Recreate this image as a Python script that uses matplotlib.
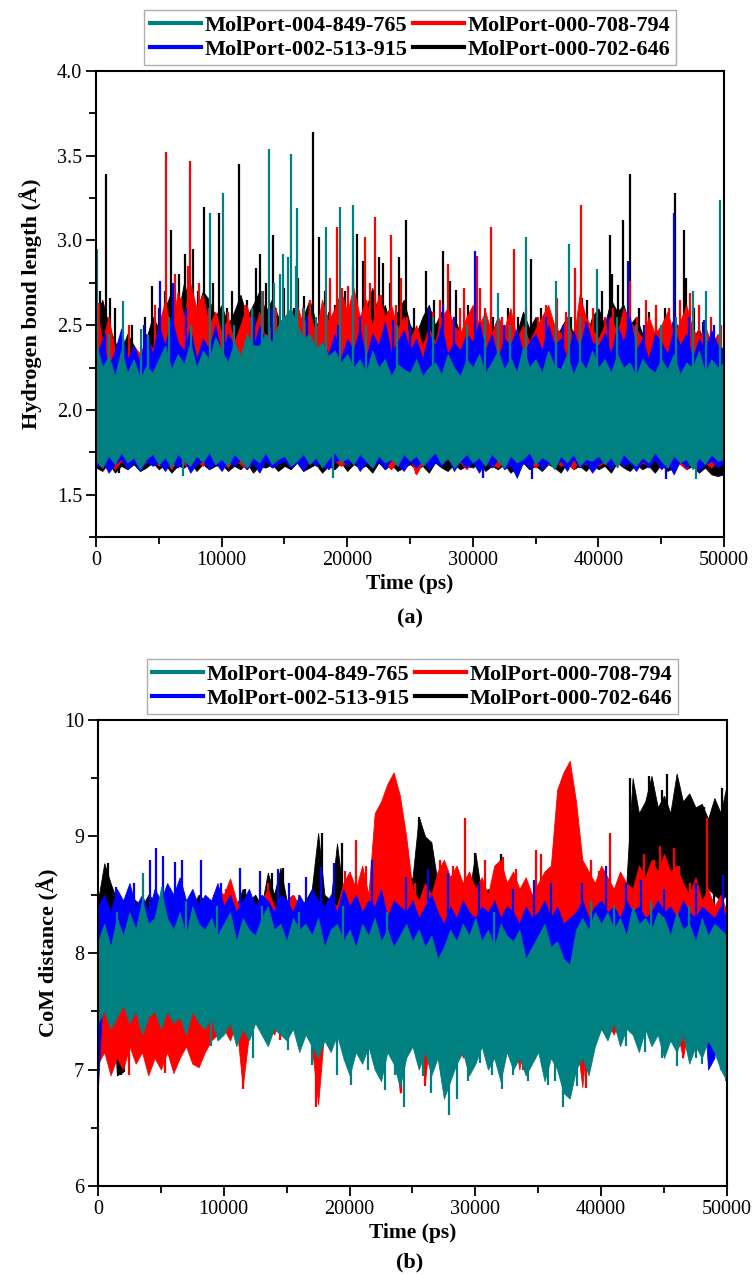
import numpy as np
import matplotlib.pyplot as plt
from matplotlib.lines import Line2D
from matplotlib.ticker import MultipleLocator

plt.rcParams['font.family'] = ['Liberation Serif', 'DejaVu Serif']

names = ['MolPort-004-849-765', 'MolPort-000-708-794',
         'MolPort-002-513-915', 'MolPort-000-702-646']
colors = {'teal': '#008080', 'red': '#ff0000', 'blue': '#0000ff', 'black': '#000000'}

# readings every 500 ps: upper and lower edge of each trace
t_grid = np.arange(0, 50001, 500)

# ---------------- panel (a): hydrogen bond length ----------------
teal_hi_a = [2.40, 2.25, 2.32, 2.20, 2.35, 2.22, 2.30, 2.18, 2.26, 2.22,
             2.30, 2.38, 2.24, 2.33, 2.27, 2.40, 2.25, 2.35, 2.30, 2.43,
             2.35, 2.28, 2.40, 2.32, 2.45, 2.38, 2.38, 2.45, 2.40, 2.50,
             2.55, 2.60, 2.50, 2.42, 2.45, 2.36, 2.40, 2.32, 2.35, 2.28,
             2.33, 2.25, 2.30, 2.22, 2.35, 2.25, 2.30, 2.20, 2.27, 2.24,
             2.22, 2.30, 2.20, 2.25, 2.28, 2.21, 2.33, 2.25, 2.20, 2.30,
             2.25, 2.33, 2.22, 2.28, 2.35, 2.24, 2.31, 2.22, 2.37, 2.25,
             2.30, 2.22, 2.35, 2.26, 2.24, 2.33, 2.21, 2.30, 2.24, 2.35,
             2.25, 2.30, 2.22, 2.33, 2.25, 2.28, 2.20, 2.30, 2.25, 2.22,
             2.30, 2.24, 2.33, 2.21, 2.28, 2.25, 2.35, 2.22, 2.30, 2.25,
             2.28]
teal_lo_a = [1.70, 1.66, 1.73, 1.68, 1.75, 1.69, 1.72, 1.65, 1.71, 1.74,
             1.68, 1.72, 1.66, 1.74, 1.70, 1.67, 1.73, 1.69, 1.75, 1.68,
             1.71, 1.67, 1.74, 1.70, 1.66, 1.72, 1.69, 1.75, 1.68, 1.71,
             1.73, 1.67, 1.70, 1.74, 1.68, 1.72, 1.66, 1.71, 1.75, 1.69,
             1.72, 1.68, 1.74, 1.70, 1.66, 1.73, 1.69, 1.71, 1.67, 1.74,
             1.70, 1.73, 1.67, 1.71, 1.75, 1.68, 1.72, 1.66, 1.70, 1.74,
             1.69, 1.72, 1.67, 1.74, 1.70, 1.66, 1.73, 1.69, 1.71, 1.75,
             1.68, 1.72, 1.70, 1.65, 1.73, 1.69, 1.74, 1.67, 1.71, 1.70,
             1.73, 1.68, 1.72, 1.66, 1.74, 1.70, 1.67, 1.72, 1.69, 1.75,
             1.70, 1.66, 1.73, 1.69, 1.71, 1.65, 1.72, 1.68, 1.74, 1.70,
             1.71]
blue_hi_a = [2.30, 2.42, 2.25, 2.35, 2.48, 2.30, 2.38, 2.28, 2.45, 2.33,
             2.50, 2.38, 2.55, 2.40, 2.35, 2.48, 2.30, 2.42, 2.36, 2.50,
             2.32, 2.45, 2.38, 2.30, 2.42, 2.35, 2.50, 2.40, 2.33, 2.45,
             2.38, 2.30, 2.48, 2.35, 2.42, 2.28, 2.40, 2.33, 2.45, 2.30,
             2.42, 2.35, 2.48, 2.30, 2.45, 2.38, 2.52, 2.33, 2.40, 2.47,
             2.35, 2.42, 2.30, 2.45, 2.38, 2.50, 2.33, 2.40, 2.35, 2.45,
             2.40, 2.52, 2.35, 2.45, 2.30, 2.42, 2.38, 2.48, 2.33, 2.40,
             2.45, 2.35, 2.50, 2.38, 2.42, 2.30, 2.47, 2.36, 2.52, 2.40,
             2.38, 2.45, 2.33, 2.50, 2.40, 2.55, 2.35, 2.42, 2.30, 2.45,
             2.40, 2.33, 2.48, 2.38, 2.45, 2.30, 2.42, 2.35, 2.47, 2.38,
             2.35]
blue_lo_a = [1.66, 1.70, 1.63, 1.68, 1.71, 1.65, 1.69, 1.64, 1.70, 1.67,
             1.69, 1.64, 1.70, 1.66, 1.71, 1.63, 1.68, 1.70, 1.65, 1.69,
             1.64, 1.70, 1.67, 1.71, 1.65, 1.69, 1.63, 1.70, 1.66, 1.68,
             1.70, 1.66, 1.69, 1.64, 1.71, 1.67, 1.70, 1.65, 1.69, 1.72,
             1.67, 1.71, 1.64, 1.69, 1.66, 1.70, 1.65, 1.71, 1.68, 1.64,
             1.70, 1.66, 1.71, 1.65, 1.69, 1.67, 1.72, 1.64, 1.70, 1.66,
             1.69, 1.63, 1.70, 1.66, 1.71, 1.65, 1.68, 1.60, 1.69, 1.66,
             1.71, 1.65, 1.69, 1.67, 1.70, 1.64, 1.71, 1.66, 1.69, 1.63,
             1.68, 1.70, 1.65, 1.71, 1.67, 1.69, 1.64, 1.70, 1.66, 1.71,
             1.65, 1.69, 1.62, 1.70, 1.66, 1.71, 1.64, 1.68, 1.70, 1.66,
             1.69]
red_hi_a = [2.62, 2.40, 2.55, 2.35, 2.45, 2.30, 2.38, 2.33, 2.42, 2.36,
            2.50, 2.65, 2.45, 2.70, 2.55, 2.75, 2.60, 2.68, 2.50, 2.58,
            2.45, 2.55, 2.40, 2.50, 2.62, 2.45, 2.58, 2.40, 2.52, 2.48,
            2.55, 2.45, 2.62, 2.50, 2.58, 2.45, 2.65, 2.52, 2.60, 2.70,
            2.58, 2.72, 2.55, 2.65, 2.50, 2.68, 2.55, 2.62, 2.48, 2.55,
            2.42, 2.50, 2.38, 2.48, 2.40, 2.55, 2.60, 2.50, 2.45, 2.55,
            2.62, 2.50, 2.58, 2.45, 2.55, 2.48, 2.60, 2.42, 2.50, 2.40,
            2.48, 2.55, 2.62, 2.50, 2.45, 2.55, 2.40, 2.68, 2.55, 2.48,
            2.42, 2.50, 2.55, 2.45, 2.60, 2.52, 2.48, 2.42, 2.55, 2.45,
            2.50, 2.58, 2.45, 2.52, 2.62, 2.48, 2.42, 2.50, 2.38, 2.45,
            2.30]
red_lo_a = [1.69, 1.66, 1.71, 1.65, 1.70, 1.67, 1.72, 1.66, 1.69, 1.71,
            1.67, 1.70, 1.65, 1.71, 1.68, 1.66, 1.70, 1.67, 1.72, 1.68,
            1.70, 1.66, 1.71, 1.68, 1.65, 1.70, 1.67, 1.71, 1.66, 1.69,
            1.71, 1.67, 1.69, 1.65, 1.70, 1.68, 1.72, 1.66, 1.70, 1.67,
            1.69, 1.71, 1.66, 1.70, 1.67, 1.72, 1.68, 1.65, 1.70, 1.67,
            1.71, 1.62, 1.69, 1.66, 1.70, 1.68, 1.71, 1.67, 1.69, 1.65,
            1.70, 1.67, 1.71, 1.68, 1.66, 1.70, 1.67, 1.72, 1.68, 1.70,
            1.66, 1.70, 1.68, 1.71, 1.67, 1.69, 1.65, 1.70, 1.68, 1.71,
            1.67, 1.69, 1.66, 1.71, 1.68, 1.70, 1.65, 1.69, 1.67, 1.71,
            1.69, 1.66, 1.70, 1.68, 1.65, 1.71, 1.67, 1.69, 1.66, 1.70,
            1.68]
black_hi_a = [2.55, 2.65, 2.50, 2.40, 2.35, 2.45, 2.38, 2.30, 2.42, 2.55,
              2.48, 2.60, 2.70, 2.55, 2.75, 2.62, 2.58, 2.70, 2.65, 2.55,
              2.62, 2.50, 2.58, 2.68, 2.55, 2.62, 2.70, 2.58, 2.65, 2.55,
              2.50, 2.60, 2.48, 2.55, 2.65, 2.52, 2.45, 2.58, 2.50, 2.62,
              2.55, 2.65, 2.50, 2.60, 2.72, 2.55, 2.62, 2.48, 2.58, 2.65,
              2.50, 2.45, 2.55, 2.62, 2.50, 2.58, 2.48, 2.55, 2.45, 2.52,
              2.48, 2.40, 2.52, 2.45, 2.55, 2.42, 2.50, 2.45, 2.58, 2.48,
              2.55, 2.45, 2.52, 2.42, 2.48, 2.55, 2.45, 2.50, 2.42, 2.55,
              2.60, 2.50, 2.65, 2.58, 2.62, 2.50, 2.55, 2.45, 2.52, 2.42,
              2.48, 2.40, 2.55, 2.45, 2.50, 2.42, 2.48, 2.38, 2.45, 2.40,
              2.35]
black_lo_a = [1.66, 1.64, 1.69, 1.63, 1.67, 1.65, 1.68, 1.64, 1.66, 1.69,
              1.65, 1.68, 1.63, 1.67, 1.66, 1.69, 1.64, 1.68, 1.65, 1.67,
              1.68, 1.64, 1.67, 1.65, 1.69, 1.63, 1.67, 1.66, 1.68, 1.64,
              1.67, 1.65, 1.69, 1.64, 1.66, 1.68, 1.63, 1.67, 1.65, 1.69,
              1.64, 1.68, 1.66, 1.67, 1.63, 1.69, 1.65, 1.68, 1.64, 1.66,
              1.68, 1.65, 1.67, 1.63, 1.69, 1.66, 1.64, 1.68, 1.65, 1.67,
              1.66, 1.69, 1.64, 1.67, 1.65, 1.68, 1.63, 1.66, 1.69, 1.65,
              1.67, 1.64, 1.68, 1.66, 1.63, 1.69, 1.65, 1.67, 1.64, 1.68,
              1.65, 1.67, 1.63, 1.69, 1.66, 1.64, 1.68, 1.65, 1.67, 1.63,
              1.68, 1.64, 1.66, 1.69, 1.65, 1.67, 1.63, 1.66, 1.62, 1.61,
              1.62]

# isolated spikes (time, value)
teal_spk_t_a = [50, 1000, 2170, 3560, 4100, 5800, 6900, 7600, 9100, 10100, 11000, 12400,
                13200, 13800, 14200, 14670, 14900, 15300, 15500, 15900, 16000, 16600,
                17500, 18300, 18900, 19450, 20450, 21500, 24000, 26800, 29500, 31000,
                32000, 33000, 34230, 36600, 37660, 38500, 39920, 41500, 43000, 45000,
                46200, 47500, 47800, 48560, 49650]
teal_spk_v_a = [2.95, 2.45, 2.64, 2.48, 2.44, 2.55, 1.61, 2.5, 3.16, 3.28, 2.5, 2.6,
                2.7, 3.54, 2.75, 2.80, 2.92, 2.9, 3.51, 2.85, 3.19, 2.6,
                2.55, 3.08, 1.60, 3.20, 3.21, 2.5, 2.5, 2.55, 2.5, 2.55,
                2.69, 2.5, 3.02, 2.76, 2.98, 2.55, 2.83, 2.55, 2.5, 2.5,
                2.55, 2.70, 1.59, 2.70, 3.24]
red_spk_t_a = [200, 1000, 2600, 4700, 5580, 6300, 6800, 7300, 7500, 8200, 9000, 10500,
               11900, 12300, 13300, 14300, 15200, 16500, 17000, 17800, 18650, 19150,
               19550, 20100, 20500, 21400, 21800, 22250, 22700, 23450, 23900, 24300,
               24800, 25500, 26800, 27400, 28000, 29000, 29300, 30360, 30550, 31000,
               31470, 32300, 33260, 34200, 35200, 35800, 36700, 37400, 38150, 38600,
               39600, 40500, 41200, 42500, 43100, 43800, 44600, 45600, 46500, 47300,
               48000, 49000, 49800]
red_spk_v_a = [2.63, 2.55, 2.5, 2.62, 3.52, 2.8, 2.66, 2.85, 3.47, 2.75, 2.6, 2.58,
               2.62, 2.55, 2.7, 2.6, 2.55, 2.6, 2.65, 2.55, 2.78, 3.08,
               2.72, 2.73, 2.85, 3.02, 2.75, 3.14, 2.68, 3.03, 2.62, 2.78,
               2.55, 1.62, 2.58, 2.65, 2.86, 2.6, 2.72, 2.91, 2.72, 2.6,
               3.08, 2.55, 2.95, 2.6, 2.55, 2.62, 2.66, 2.58, 2.84, 3.21,
               2.6, 2.55, 2.6, 2.76, 2.55, 2.65, 2.62, 2.6, 2.65, 2.69,
               2.62, 2.55, 2.5]
black_spk_t_a = [300, 770, 1100, 1500, 1800, 2900, 3900, 4440, 5000, 5500, 6000, 6600,
                 7100, 7700, 8100, 8600, 9300, 9800, 10400, 10800, 11400, 12000, 12700,
                 13080, 13500, 14100, 15000, 15800, 16100, 16600, 17300, 17750, 18200,
                 19000, 19800, 20750, 21260, 22500, 22850, 23400, 24100, 24700, 25300,
                 26300, 26900, 27620, 28200, 28700, 29600, 30200, 31600, 32800, 33600,
                 34660, 35400, 37800, 38700, 39100, 40300, 40900, 41100, 41600, 42000,
                 42480, 43200, 44040, 44600, 45300, 46090, 46780, 47000, 47600, 48300,
                 49500]
black_spk_v_a = [2.7, 3.39, 2.66, 2.6, 1.63, 2.5, 2.55, 2.73, 2.6, 2.7, 3.06, 2.8,
                 2.92, 2.95, 2.7, 3.20, 2.75, 3.16, 2.6, 2.7, 3.45, 2.65, 2.84,
                 2.92, 2.75, 3.03, 2.72, 2.6, 2.78, 2.67, 3.64, 3.02, 2.7,
                 2.62, 2.7, 3.04, 2.88, 2.9, 2.87, 2.75, 2.9, 3.12, 2.6,
                 2.82, 2.65, 2.94, 2.76, 2.71, 2.62, 2.58, 2.55, 2.6, 2.55,
                 2.89, 2.6, 2.55, 2.66, 2.65, 2.7, 3.03, 2.8, 2.74, 3.12,
                 3.39, 2.6, 2.58, 2.55, 2.6, 3.28, 3.06, 2.78, 2.6, 2.52,
                 1.62]
blue_spk_t_a = [700, 2000, 3800, 5100, 6100, 7200, 8900, 10200, 11800, 12600, 14000,
                16800, 18200, 19300, 21000, 23650, 25000, 26500, 27600, 28500, 30140,
                30800, 32500, 34700, 35800, 37200, 39000, 40800, 42350, 43600, 45400,
                46040, 47200, 48400, 49200]
blue_spk_v_a = [2.45, 2.08, 2.5, 2.76, 2.75, 2.6, 2.1, 2.5, 2.05, 2.55, 2.6,
                2.55, 1.65, 2.5, 2.55, 2.53, 2.5, 2.6, 2.62, 2.55, 2.94,
                1.6, 2.5, 1.59, 2.55, 2.5, 2.52, 2.55, 2.88, 2.5, 1.59,
                3.16, 2.55, 2.53, 2.5]

# ---------------- panel (b): CoM distance ----------------
teal_hi_b = [8.10, 8.25, 8.05, 8.30, 8.15, 8.35, 8.20, 8.45, 8.25, 8.30,
             8.55, 8.30, 8.20, 8.35, 8.15, 8.40, 8.25, 8.20, 8.30, 8.15,
             8.25, 8.35, 8.10, 8.30, 8.20, 8.15, 8.30, 8.40, 8.20, 8.25,
             8.10, 8.30, 8.20, 8.25, 8.15, 8.30, 8.05, 8.20, 8.25, 8.10,
             8.20, 8.05, 8.25, 8.15, 8.30, 8.10, 8.20, 8.05, 8.15, 8.25,
             8.10, 8.20, 8.05, 8.15, 7.95, 8.05, 8.20, 8.10, 8.25, 8.15,
             8.30, 8.10, 8.20, 8.05, 8.25, 8.15, 8.10, 8.20, 7.95, 8.05,
             8.15, 8.25, 8.05, 8.10, 7.95, 7.90, 8.20, 8.30, 8.20, 8.35,
             8.25, 8.35, 8.20, 8.30, 8.15, 8.40, 8.25, 8.30, 8.20, 8.35,
             8.30, 8.15, 8.35, 8.20, 8.25, 8.10, 8.30, 8.15, 8.25, 8.20,
             8.15]
teal_lo_b = [7.40, 7.50, 7.35, 7.45, 7.55, 7.40, 7.50, 7.30, 7.45, 7.50,
             7.35, 7.50, 7.40, 7.45, 7.30, 7.50, 7.40, 7.35, 7.45, 7.25,
             7.30, 7.40, 7.20, 7.35, 7.25, 7.40, 7.30, 7.20, 7.35, 7.30,
             7.25, 7.35, 7.15, 7.30, 7.20, 7.10, 7.25, 7.15, 7.30, 7.10,
             6.95, 7.15, 7.05, 7.20, 7.00, 6.90, 7.15, 7.05, 6.85, 7.10,
             7.20, 7.00, 7.15, 6.95, 7.10, 6.75, 6.90, 7.05, 7.15, 6.95,
             7.05, 7.20, 7.00, 7.10, 6.90, 7.15, 7.00, 7.10, 6.95, 7.05,
             7.15, 6.90, 7.10, 7.00, 6.80, 6.75, 7.00, 7.10, 6.95, 7.20,
             7.35, 7.25, 7.40, 7.20, 7.35, 7.30, 7.15, 7.35, 7.20, 7.30,
             7.10, 7.25, 7.15, 7.30, 7.05, 7.20, 7.10, 7.25, 7.15, 7.00,
             6.90]
blue_hi_b = [8.40, 8.50, 8.35, 8.55, 8.45, 8.60, 8.40, 8.50, 8.35, 8.55,
             8.45, 8.60, 8.50, 8.65, 8.45, 8.55, 8.40, 8.50, 8.45, 8.60,
             8.40, 8.50, 8.35, 8.45, 8.55, 8.40, 8.50, 8.45, 8.35, 8.50,
             8.45, 8.35, 8.50, 8.40, 8.55, 8.45, 8.40, 8.50, 8.35, 8.55,
             8.40, 8.50, 8.35, 8.45, 8.40, 8.55, 8.30, 8.45, 8.40, 8.35,
             8.45, 8.30, 8.40, 8.50, 8.35, 8.25, 8.40, 8.30, 8.45, 8.35,
             8.30, 8.40, 8.35, 8.45, 8.30, 8.40, 8.35, 8.25, 8.40, 8.30,
             8.35, 8.45, 8.30, 8.40, 8.25, 8.30, 8.35, 8.45, 8.30, 8.40,
             8.45, 8.35, 8.40, 8.30, 8.45, 8.35, 8.40, 8.30, 8.35, 8.45,
             8.35, 8.40, 8.30, 8.45, 8.35, 8.30, 8.40, 8.35, 8.30, 8.40,
             8.30]
blue_lo_b = [6.85, 7.90, 7.95, 7.85, 7.95, 7.90, 7.85, 7.95, 7.90, 7.85,
             7.90, 7.95, 7.85, 7.90, 7.95, 7.85, 7.90, 7.95, 7.85, 7.90,
             7.95, 7.85, 7.90, 7.95, 7.85, 7.90, 7.95, 7.85, 7.90, 7.95,
             7.85, 7.90, 7.95, 7.85, 7.90, 7.95, 7.85, 7.90, 7.95, 7.85,
             7.60, 7.90, 7.85, 7.95, 7.90, 7.80, 7.65, 7.90, 7.85, 7.90,
             7.85, 7.90, 7.80, 7.85, 7.75, 7.55, 7.50, 7.80, 7.85, 7.90,
             7.85, 7.90, 7.80, 7.85, 7.90, 7.80, 7.85, 7.75, 7.45, 7.80,
             7.85, 7.80, 7.90, 7.75, 7.50, 7.55, 7.80, 7.85, 7.90, 7.85,
             7.80, 7.85, 7.90, 7.85, 7.80, 7.90, 7.85, 7.80, 7.90, 7.85,
             7.80, 7.85, 7.90, 7.80, 7.85, 7.80, 7.85, 7.00, 7.10, 7.80,
             7.85]
red_hi_b = [8.20, 8.25, 8.15, 8.30, 8.20, 8.25, 8.15, 8.30, 8.20, 8.25,
            8.30, 8.20, 8.25, 8.15, 8.30, 8.20, 8.35, 8.25, 8.40, 8.55,
            8.50, 8.64, 8.45, 8.35, 8.50, 8.40, 8.45, 8.55, 8.40, 8.35,
            8.45, 8.50, 8.40, 8.35, 8.45, 8.40, 8.30, 8.45, 8.40, 8.60,
            8.70, 8.55, 8.75, 8.50, 9.20, 9.30, 9.45, 9.55, 9.35, 9.00,
            8.55, 8.45, 8.60, 8.50, 8.70, 8.80, 8.65, 8.75, 8.60, 8.70,
            8.55, 8.65, 8.50, 8.75, 8.80, 8.60, 8.70, 8.55, 8.65, 8.50,
            8.60, 8.70, 8.75, 9.40, 9.55, 9.65, 9.30, 8.80, 8.70, 8.60,
            8.75, 8.65, 8.55, 8.70, 8.60, 8.55, 8.75, 8.65, 8.80, 8.70,
            8.85, 8.70, 8.75, 8.60, 8.50, 8.65, 8.45, 8.55, 8.40, 8.50,
            8.35]
red_lo_b = [7.05, 7.15, 6.95, 7.10, 7.00, 7.20, 7.05, 7.15, 6.95, 7.10,
            7.00, 7.15, 6.97, 7.10, 7.20, 7.05, 7.02, 7.15, 7.25, 7.30,
            7.35, 7.25, 7.40, 6.85, 7.30, 7.45, 7.35, 7.40, 7.30, 7.45,
            7.35, 7.40, 7.30, 7.45, 7.20, 6.70, 7.35, 7.40, 7.30, 7.45,
            7.40, 7.35, 7.45, 7.30, 7.40, 7.35, 7.45, 7.30, 6.80, 7.40,
            7.35, 7.45, 6.90, 7.40, 7.35, 7.45, 7.30, 7.40, 7.10, 7.35,
            7.25, 7.40, 7.35, 7.45, 7.30, 7.40, 7.35, 7.00, 7.40, 7.35,
            7.45, 7.30, 7.40, 7.35, 7.45, 7.40, 7.30, 6.85, 7.40, 7.35,
            7.45, 7.40, 7.30, 7.45, 7.35, 7.40, 7.45, 7.35, 7.40, 7.30,
            7.45, 7.40, 7.35, 7.10, 7.40, 7.45, 7.35, 7.40, 7.30, 7.45,
            7.40]
black_hi_b = [8.45, 8.77, 8.60, 8.45, 8.40, 8.50, 8.45, 8.40, 8.50, 8.45,
              8.40, 8.45, 8.50, 8.40, 8.45, 8.40, 8.50, 8.45, 8.40, 8.45,
              8.50, 8.45, 8.40, 8.55, 8.45, 8.50, 8.40, 8.69, 8.50, 8.73,
              8.45, 8.50, 8.40, 8.45, 8.55, 9.03, 8.50, 8.45, 8.94, 8.50,
              8.45, 8.50, 8.55, 8.45, 8.50, 8.60, 8.55, 8.60, 8.50, 8.65,
              8.64, 9.17, 9.00, 8.95, 8.60, 8.55, 8.50, 8.45, 8.55, 8.50,
              8.86, 8.50, 8.55, 8.45, 8.85, 8.50, 8.45, 8.55, 8.50, 8.45,
              8.50, 8.45, 8.55, 8.45, 8.50, 8.45, 8.50, 8.45, 8.50, 8.55,
              8.50, 8.45, 8.55, 8.50, 8.60, 9.50, 9.20, 9.30, 9.52, 9.25,
              9.35, 9.20, 9.54, 9.30, 9.37, 9.25, 9.28, 9.15, 9.33, 9.20,
              9.45]
black_lo_b = [8.00, 7.95, 8.05, 6.95, 6.98, 8.00, 7.95, 8.05, 8.00, 7.95,
              8.00, 7.95, 8.05, 8.00, 7.95, 8.05, 8.00, 7.95, 8.05, 8.00,
              8.00, 7.95, 8.05, 8.00, 7.95, 8.05, 8.00, 7.95, 8.05, 8.00,
              8.00, 7.95, 8.05, 8.00, 7.95, 8.05, 8.00, 7.95, 8.05, 8.00,
              8.00, 7.95, 8.05, 8.00, 7.95, 8.05, 8.00, 7.95, 8.05, 8.00,
              8.00, 7.95, 8.05, 8.00, 7.95, 8.05, 8.00, 7.95, 8.05, 8.00,
              8.00, 7.95, 8.05, 8.00, 7.95, 8.05, 8.00, 7.95, 8.05, 8.00,
              8.00, 7.95, 8.05, 8.00, 7.60, 8.00, 7.95, 8.05, 8.00, 7.95,
              8.00, 7.30, 8.05, 8.00, 8.10, 8.40, 8.50, 8.45, 8.55, 8.50,
              8.45, 8.55, 8.50, 8.45, 8.55, 8.50, 8.45, 8.55, 8.50, 8.45,
              8.50]

teal_spk_t_b = [1500, 3600, 5100, 7000, 9000, 9500, 12300, 13000, 15100, 16000, 17000,
                19000, 19500, 20100, 21500, 22800, 23000, 23600, 24300, 25800, 26500,
                27900, 28500, 29400, 30400, 31300, 31500, 32100, 33000, 34200, 35800,
                36300, 37000, 38100, 39000, 39200, 41000, 42000, 43500, 44000, 44800,
                46000, 47000, 47500, 48000, 49500, 49900]
teal_spk_v_b = [8.35, 8.69, 8.57, 8.45, 7.2, 8.4, 7.1, 8.4, 7.17, 8.35, 7.04,
                6.95, 8.4, 6.87, 7.0, 6.82, 8.35, 6.95, 6.68, 6.94, 6.8,
                6.61, 6.75, 6.9, 7.06, 6.95, 8.35, 6.83, 6.95, 6.9, 6.87,
                6.9, 6.68, 6.86, 7.0, 8.45, 8.4, 7.2, 7.15, 8.45, 7.1,
                7.03, 8.4, 7.1, 7.05, 7.0, 6.9]
blue_spk_t_b = [1400, 2900, 4100, 4600, 5200, 6100, 6700, 8200, 9800, 11300, 12900,
                14300, 15200, 16500, 17700, 18800, 20000, 21800, 23000, 24500, 26200,
                27800, 30300, 33000, 34700, 36000, 38500, 40400, 42000, 43200, 45000,
                47500, 49700]
blue_spk_v_b = [8.57, 8.6, 8.8, 8.9, 8.83, 8.78, 8.8, 8.8, 8.6, 8.73, 8.7,
                8.72, 8.6, 8.65, 8.74, 8.77, 7.6, 8.8, 7.6, 8.65, 8.72,
                8.69, 8.6, 8.55, 8.63, 8.6, 8.6, 8.75, 8.6, 8.63, 8.55,
                8.6, 8.67]
red_spk_t_b = [2500, 4000, 5300, 8500, 9200, 10200, 11500, 13500, 14500, 16000, 17300,
               19000, 19600, 20500, 20900, 21300, 24100, 25200, 26000, 27000, 27200,
               28200, 29200, 30300, 30800, 31800, 32200, 33200, 33800, 34800, 35200,
               36000, 36400, 38800, 39200, 39800, 40500, 40700, 41500, 43000, 43400,
               44200, 44700, 45800, 46200, 46500, 47100, 48400, 49200]
red_spk_v_b = [6.95, 7.0, 6.97, 7.2, 8.5, 8.55, 6.83, 8.6, 7.25, 8.5, 6.68,
               7.2, 8.7, 8.97, 8.6, 8.75, 6.8, 8.6, 6.86, 7.15, 8.8,
               8.75, 9.16, 7.2, 8.8, 8.75, 8.82, 8.72, 7.0, 8.88, 8.85,
               8.7, 7.1, 6.84, 8.8, 8.7, 7.3, 9.03, 8.6, 7.3, 8.85,
               8.8, 8.92, 8.9, 8.75, 7.1, 8.6, 9.16, 7.3]
black_spk_t_b = [830, 1800, 2100, 11700, 13800, 14700, 17800, 19400, 23000, 25000, 25500,
                 25900, 26200, 30000, 32000, 42300, 42600, 43800, 44200, 44800, 45200,
                 46000, 47000, 48200, 49000, 49600]
black_spk_v_b = [8.77, 6.95, 6.98, 8.55, 8.69, 8.73, 9.03, 8.94, 8.6, 8.64, 9.17,
                 9.0, 8.95, 8.86, 8.85, 9.5, 9.3, 9.52, 9.3, 9.4, 9.54,
                 9.3, 9.25, 9.25, 9.2, 9.42]


def draw_series(ax, hi, lo, spk_t, spk_v, base, color, z):
    ax.fill_between(t_grid, lo, hi, color=color, linewidth=0.6, zorder=z)
    ax.vlines(spk_t, base, spk_v, color=color, linewidth=1.6, zorder=z)


def style_axes(ax, ylo, yhi, major, minor):
    ax.set_xlim(0, 50000)
    ax.set_ylim(ylo, yhi)
    ax.xaxis.set_major_locator(MultipleLocator(10000))
    ax.xaxis.set_minor_locator(MultipleLocator(5000))
    ax.yaxis.set_major_locator(MultipleLocator(major))
    ax.yaxis.set_minor_locator(MultipleLocator(minor))
    ax.tick_params(which='both', direction='out', top=False, right=False,
                   labelsize=14.5, width=1.3, pad=3)
    ax.tick_params(which='major', length=7)
    ax.tick_params(which='minor', length=5)
    for s in ax.spines.values():
        s.set_linewidth(1.5)
        s.set_zorder(10)
    ax.set_xlabel('Time (ps)', fontsize=15.5, fontweight='bold', labelpad=3)


def add_legend(ax):
    handles = [Line2D([], [], color=colors[c], linewidth=3)
               for c in ['teal', 'blue', 'red', 'black']]
    labels = [names[0], names[2], names[1], names[3]]
    leg = ax.legend(handles, labels, ncol=2, loc='lower center',
                    bbox_to_anchor=(0.5, 1.0), frameon=True, fancybox=False,
                    prop={'weight': 'bold', 'size': 16}, handlelength=2.3,
                    handletextpad=0.15, columnspacing=0.25, labelspacing=0.15,
                    borderpad=0.25, borderaxespad=0.25)
    leg.get_frame().set_edgecolor('#999999')
    leg.get_frame().set_linewidth(1.0)


fig = plt.figure(figsize=(7.52, 12.75), dpi=100)

ax1 = fig.add_axes([0.1277, 0.5788, 0.835, 0.3655])
draw_series(ax1, black_hi_a, black_lo_a, black_spk_t_a, black_spk_v_a, 2.0, colors['black'], 2)
draw_series(ax1, red_hi_a, red_lo_a, red_spk_t_a, red_spk_v_a, 2.0, colors['red'], 3)
draw_series(ax1, blue_hi_a, blue_lo_a, blue_spk_t_a, blue_spk_v_a, 2.0, colors['blue'], 4)
draw_series(ax1, teal_hi_a, teal_lo_a, teal_spk_t_a, teal_spk_v_a, 2.0, colors['teal'], 5)
style_axes(ax1, 1.25, 4.0, 0.5, 0.25)
ax1.set_ylabel('Hydrogen bond length (Å)', fontsize=16, fontweight='bold', labelpad=11)
add_legend(ax1)
fig.text(0.545, 1 - 618 / 1275, '(a)', ha='center', va='center', fontsize=16, fontweight='bold')

ax2 = fig.add_axes([0.1303, 0.0698, 0.8364, 0.3655])
draw_series(ax2, black_hi_b, black_lo_b, black_spk_t_b, black_spk_v_b, 8.2, colors['black'], 2)
draw_series(ax2, red_hi_b, red_lo_b, red_spk_t_b, red_spk_v_b, 7.9, colors['red'], 3)
draw_series(ax2, blue_hi_b, blue_lo_b, blue_spk_t_b, blue_spk_v_b, 8.1, colors['blue'], 4)
draw_series(ax2, teal_hi_b, teal_lo_b, teal_spk_t_b, teal_spk_v_b, 7.8, colors['teal'], 5)
style_axes(ax2, 6, 10, 1, 0.5)
ax2.set_ylabel('CoM distance (Å)', fontsize=16, fontweight='bold', labelpad=3)
add_legend(ax2)
fig.text(0.545, 1 - 1262 / 1275, '(b)', ha='center', va='center', fontsize=16, fontweight='bold')

fig.savefig('out.png', dpi=100)
